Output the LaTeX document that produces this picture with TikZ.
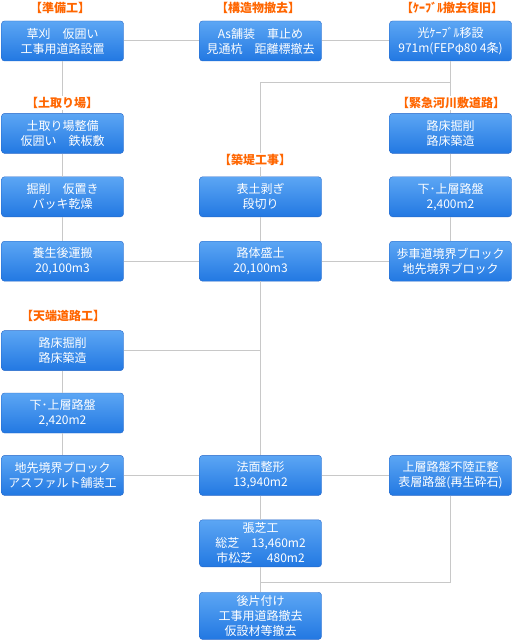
\documentclass[tikz,border=0pt]{standalone}
\usepackage{fontspec}
\setmainfont{Noto Sans CJK JP}
\usetikzlibrary{positioning}
\definecolor{boxtop}{RGB}{92,166,244}
\definecolor{boxbot}{RGB}{34,120,226}
\definecolor{boxline}{RGB}{40,104,200}
\definecolor{linkgray}{RGB}{200,200,200}
\definecolor{titleorange}{RGB}{255,102,0}
\tikzset{main node/.style={rectangle,rounded corners=3pt,draw=boxline,top color=boxtop,bottom color=boxbot,
    text=white,align=center,minimum width=122pt,minimum height=40pt,inner xsep=1pt,inner ysep=3pt,
    font=\fontsize{12}{15}\selectfont},
  title node/.style={fill=white,text=titleorange,inner sep=1pt,font=\fontsize{12}{14}\selectfont\bfseries},
  link/.style={draw=linkgray,line width=1pt},}

\begin{document}
\begin{tikzpicture}[x=1pt,y=-1pt]
          \useasboundingbox (0,0) rectangle (514,644);
          % top row
          \node[main node] (a1) at (62.5,41) {草刈　仮囲い\\工事用道路設置};
          \node[main node] (b1) at (260.5,41) {As舗装　車止め\\見通杭　距離標撤去};
          \node[main node] (c1) at (450.5,41) {光ｹｰﾌﾞﾙ移設\\971m(FEPφ80 4条)};
          % left column
          \node[main node] (a2) [below = 52pt of a1] {土取り場整備\\仮囲い　鉄板敷};
          \node[main node] (a3) [below = 23pt of a2] {掘削　仮置き\\バッキ乾燥};
          \node[main node] (a4) [below = 24pt of a3] {養生後運搬\\20,100m3};
          \node[main node] (a5) [below = 49pt of a4] {路床掘削\\路床築造};
          \node[main node] (a6) [below = 22pt of a5] {下･上層路盤\\2,420m2};
          \node[main node] (a7) [below = 22pt of a6] {地先境界ブロック\\アスファルト舗装工};
          % right column
          \node[main node] (c2) [below = 52pt of c1] {路床掘削\\路床築造};
          \node[main node] (c3) [below = 23pt of c2] {下･上層路盤\\2,400m2};
          \node[main node] (c4) [below = 24pt of c3] {歩車道境界ブロック\\地先境界ブロック};
          \node[main node] (c7) at (a7 -| c1) {上層路盤不陸正整\\表層路盤(再生砕石)};
          % middle column
          \node[main node] (b3) at (a3 -| b1) {表土剥ぎ\\段切り};
          \node[main node] (b4) at (a4 -| b1) {路体盛土\\20,100m3};
          \node[main node] (b7) at (a7 -| b1) {法面整形\\13,940m2};
          \node[main node] (b8) [below = 24pt of b7] {張芝工\\総芝　13,460m2\\市松芝　 480m2};
          \node[main node] (b9) [below = 25pt of b8] {後片付け\\工事用道路撤去\\仮設材等撤去};

          \coordinate (j1) at (450.5,83);
          \coordinate (j2) at (260.5,582);

          \path[link]
          (a1) edge (b1)
          (b1) edge (c1)
          (a1) edge (a2)
          (a2) edge (a3)
          (a3) edge (a4)
          (a4) edge (b4)
          (b4) edge (c4)
          (c1) edge (c2)
          (c2) edge (c3)
          (c3) edge (c4)
          (b3) edge (b4)
          (a5) edge (a6)
          (a6) edge (a7)
          (a7) edge (b7)
          (b7) edge (c7)
          (b7) edge (b8)
          (b8) edge (b9);
          \draw[link] (j1) -| (b3.north);
          \draw[link] (b4.south) -- (b7.north);
          \draw[link] (a5.east) -- (a5.east -| b4.south);
          \draw[link] (c7.south) |- (j2);

          % titles
          \node[title node] (t1) at (60,8) {【準備工】};
          \node[title node] (t2) at (258,8) {【構造物撤去】};
          \node[title node] (t3) at (452,8) {【ｹｰﾌﾞﾙ撤去復旧】};
          \node[title node] (t4) at (62,103) {【土取り場】};
          \node[title node] (t5) at (451,103) {【緊急河川敷道路】};
          \node[title node] (t6) at (255,160) {【築堤工事】};
          \node[title node] (t7) at (63,316) {【天端道路工】};
        \end{tikzpicture}
\end{document}
